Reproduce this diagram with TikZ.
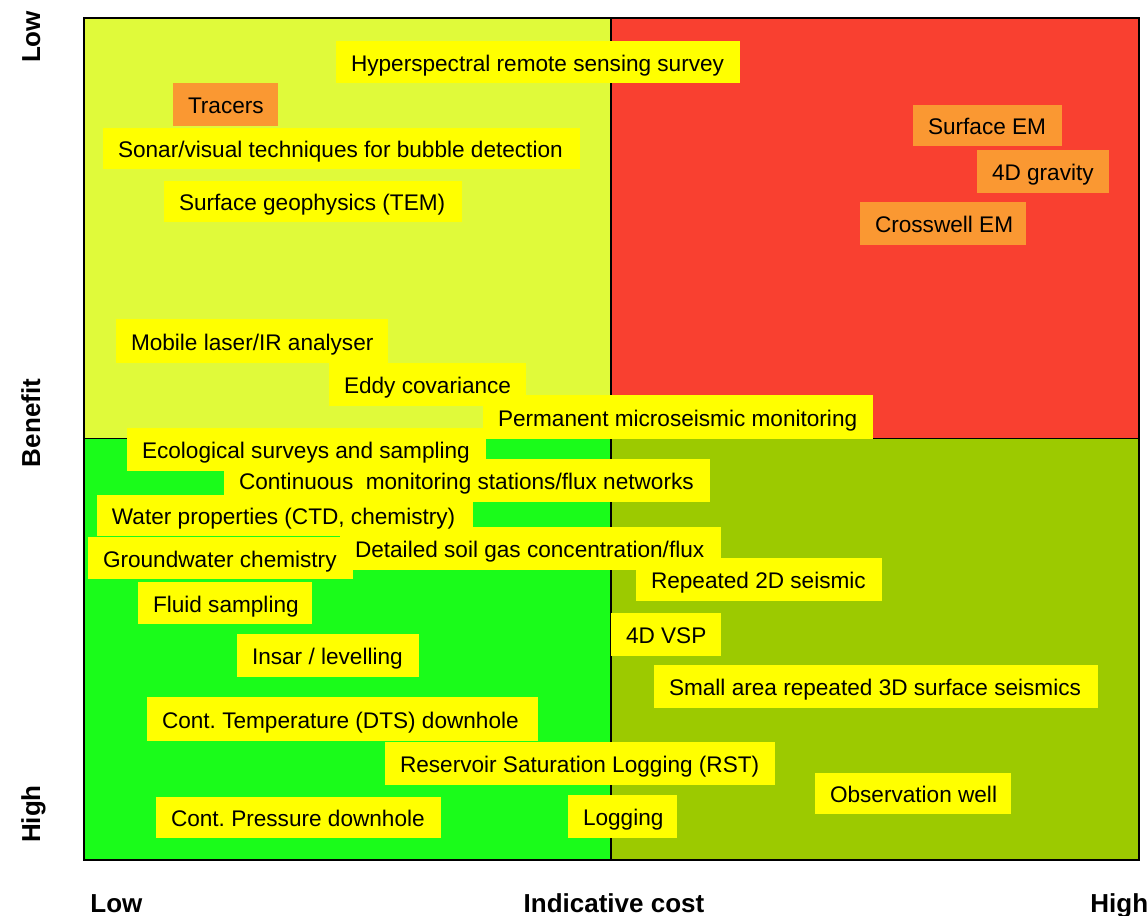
\documentclass[tikz,border=0pt]{standalone}
\usepackage{fontspec}
\setmainfont{Liberation Sans}
\frenchspacing
\definecolor{qTL}{RGB}{224,250,58}
\definecolor{qTR}{RGB}{249,64,48}
\definecolor{qBL}{RGB}{26,252,26}
\definecolor{qBR}{RGB}{156,202,0}
\definecolor{byel}{RGB}{255,255,0}
\definecolor{bora}{RGB}{250,152,50}
\newcommand\qbox[7]{%
  \pgfmathsetlengthmacro\qw{(#5-#3)*0.5pt}%
  \pgfmathsetlengthmacro\qh{(#6-#4)*0.5pt}%
  \pgfmathsetlengthmacro\qt{(#5-#3-30)*0.5pt}%
  \node[#2, minimum width=\qw, minimum height=\qh] (#1) at ({(#3+#5)/2},{(#4+#6)/2}) {\makebox[\qt][l]{#7}};}
\tikzset{
  ybox/.style={fill=byel, draw=none, inner xsep=7.5pt, inner ysep=0pt,
    text height=10pt, text depth=1pt, font=\fontsize{11.3}{13}\selectfont, text=black},
  obox/.style={ybox, fill=bora},
  axlab/.style={font=\fontsize{13}{15}\selectfont\bfseries, inner sep=0pt, text=black},
  frameline/.style={draw=black, line width=0.9pt},
  midline/.style={draw=black, line width=0.75pt},
}
\begin{document}
\begin{tikzpicture}[x=0.5pt,y=-0.5pt]
\useasboundingbox (0,0) rectangle (1147,916);
% quadrants
\fill[qTL] (84,18) rectangle (611,438.5);
\fill[qTR] (611,18) rectangle (1139,438.5);
\fill[qBL] (84,438.5) rectangle (611,860);
\fill[qBR] (611,438.5) rectangle (1139,860);
\coordinate (mt) at (611,18);
\coordinate (mb) at (611,860);
\coordinate (ml) at (84,438.5);
\coordinate (mr) at (1139,438.5);
\draw[midline] (mt) -- (mb);
\draw[midline] (ml) -- (mr);
\draw[frameline] (84,18) rectangle (1139,860);
% boxes
\qbox{hyper}{ybox}{336}{41}{740}{83}{Hyperspectral remote sensing survey}
\qbox{tracers}{obox}{173}{83}{278}{126}{Tracers}
\qbox{sonar}{ybox}{103}{128}{580}{169}{Sonar/visual techniques for bubble detection}
\qbox{surfgeo}{ybox}{164}{181}{462}{222}{Surface geophysics (TEM)}
\qbox{surfem}{obox}{913}{105}{1062}{146}{Surface EM}
\qbox{grav}{obox}{977}{150}{1109}{193}{4D gravity}
\qbox{cross}{obox}{860}{202}{1026}{245}{Crosswell EM}
\qbox{mobile}{ybox}{116}{319}{388}{363}{Mobile laser/IR analyser}
\qbox{eddy}{ybox}{329}{363}{526}{406}{Eddy covariance}
\qbox{perm}{ybox}{483}{395}{873}{439}{Permanent microseismic monitoring}
\qbox{contmon}{ybox}{224}{459}{710}{502}{Continuous\ \ monitoring stations/flux networks}
\qbox{eco}{ybox}{127}{428}{486}{471}{Ecological surveys and sampling}
\qbox{soil}{ybox}{340}{527}{721}{570}{Detailed soil gas concentration/flux}
\qbox{water}{ybox}{97}{495}{473}{536}{Water properties (CTD, chemistry)}
\qbox{ground}{ybox}{88}{537}{353}{579}{Groundwater chemistry}
\qbox{rep2d}{ybox}{636}{558}{882}{601}{Repeated 2D seismic}
\qbox{fluid}{ybox}{138}{582}{312}{624}{Fluid sampling}
\qbox{vsp}{ybox}{611}{613}{721}{656}{4D VSP}
\qbox{insar}{ybox}{237}{634}{419}{677}{Insar / levelling}
\qbox{small}{ybox}{654}{665}{1098}{708}{Small area repeated 3D surface seismics}
\qbox{dts}{ybox}{147}{697}{538}{741}{Cont. Temperature (DTS) downhole}
\qbox{rst}{ybox}{385}{742}{775}{785}{Reservoir Saturation Logging (RST)}
\qbox{obs}{ybox}{815}{773}{1011}{814}{Observation well}
\qbox{logging}{ybox}{568}{795}{677}{838}{Logging}
\qbox{press}{ybox}{156}{797}{441}{838}{Cont. Pressure downhole}
% axis labels
\node[axlab, rotate=90, anchor=base] (blow) at (40,37) {Low};
\node[axlab, rotate=90, anchor=base] (bene) at (40,423) {Benefit};
\node[axlab, rotate=90, anchor=base] (bhigh) at (40,814) {High};
\node[axlab, anchor=base west] (clow) at (90,912) {Low};
\node[axlab, anchor=base] (cost) at (614,912) {Indicative cost};
\node[axlab, anchor=base west] (chigh) at (1090,912) {High};
\end{tikzpicture}
\end{document}
